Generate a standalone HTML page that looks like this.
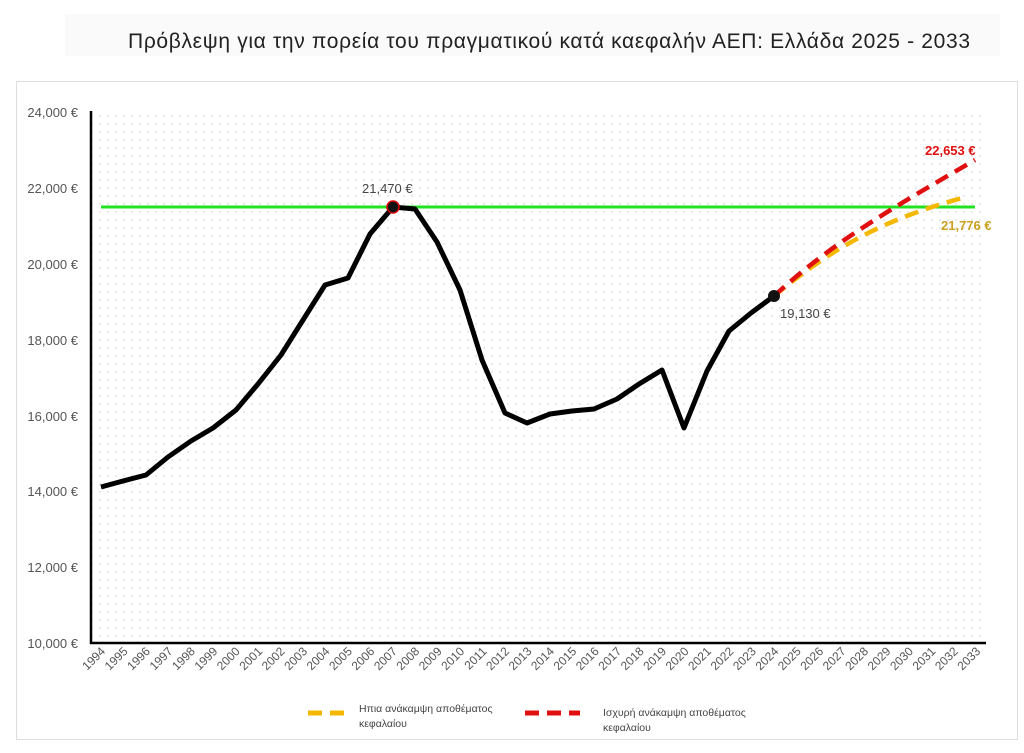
<!DOCTYPE html>
<html><head><meta charset="utf-8"><style>
body{margin:0;background:#fff;width:1024px;height:748px;overflow:hidden}
svg text{font-family:"Liberation Sans","DejaVu Sans",sans-serif}
</style></head><body>
<svg width="1024" height="748" viewBox="0 0 1024 748">
<defs><pattern id="d" width="8" height="8" patternUnits="userSpaceOnUse"><circle cx="4" cy="4" r="0.7" fill="#c8c8c8"/></pattern></defs>
<rect x="65" y="14" width="935" height="42" fill="#fafafa"/>
<text x="128" y="48" font-size="21" fill="#222" textLength="842" lengthAdjust="spacing">Πρόβλεψη για την πορεία του πραγματικού κατά καεφαλήν ΑΕΠ: Ελλάδα 2025 - 2033</text>
<rect x="16.5" y="81.5" width="1001" height="658" fill="none" stroke="#ddd"/>
<rect x="92" y="112" width="893" height="531" fill="url(#d)"/>
<line x1="91" y1="111" x2="91" y2="644" stroke="#000" stroke-width="2.5"/>
<line x1="90" y1="643" x2="986" y2="643" stroke="#000" stroke-width="2.5"/>
<g font-size="13" fill="#555" text-anchor="end">
<text x="78" y="117">24,000 €</text><text x="78" y="193">22,000 €</text><text x="78" y="269">20,000 €</text><text x="78" y="345">18,000 €</text><text x="78" y="421">16,000 €</text><text x="78" y="496">14,000 €</text><text x="78" y="572">12,000 €</text><text x="78" y="648">10,000 €</text>
</g>
<g font-size="12" fill="#555" text-anchor="end" id="xl"></g>
<line x1="101" y1="207" x2="975" y2="207" stroke="#22e022" stroke-width="3"/>
<path d="M774,296 C830,250 880,220 966,197" fill="none" stroke="#f5b800" stroke-width="4.5" stroke-dasharray="14,8"/>
<path d="M774,296 C830,245 880,215 975,160" fill="none" stroke="#e01010" stroke-width="4.5" stroke-dasharray="14,8"/>
<polyline fill="none" stroke="#000" stroke-width="5" stroke-linejoin="round" points="101,487 123,481 146,475 168,457 191,441 213,428 236,410 258,384 281,355 303,320 325,285 348,278 370,234 393,207 415,209 437,242 460,290 482,360 505,413 527,423 550,414 572,411 594,409 617,399 639,384 662,370 684,428 707,371 729,331 751,313 774,296"/>
<circle cx="393" cy="207" r="6" fill="#111" stroke="#d00" stroke-width="1.5"/>
<circle cx="774" cy="296" r="6" fill="#111"/>
<text x="362" y="193" font-size="13" fill="#444">21,470 €</text>
<text x="780" y="318" font-size="13" fill="#444">19,130 €</text>
<text x="925" y="155" font-size="13" font-weight="bold" fill="#e01010">22,653 €</text>
<text x="941" y="230" font-size="13" font-weight="bold" fill="#c9a020">21,776 €</text>
<line x1="308" y1="713" x2="348" y2="713" stroke="#f5b800" stroke-width="5" stroke-dasharray="14,8"/>
<text x="359" y="712" font-size="10.5" fill="#444">Ηπια ανάκαμψη αποθέματος</text>
<text x="359" y="727" font-size="10.5" fill="#444">κεφαλαίου</text>
<line x1="525" y1="713" x2="580" y2="713" stroke="#e01010" stroke-width="5" stroke-dasharray="14,8"/>
<text x="603" y="716" font-size="10.5" fill="#444">Ισχυρή ανάκαμψη αποθέματος</text>
<text x="603" y="731" font-size="10.5" fill="#444">κεφαλαίου</text>
</svg>
<script>
var g=document.getElementById('xl'),s='';
for(var i=0;i<40;i++){var x=101+i*22.44+5,y=652;s+='<text transform="translate('+x+','+y+') rotate(-45)">'+(1994+i)+'</text>';}
g.innerHTML=s;
</script>
</body></html>
